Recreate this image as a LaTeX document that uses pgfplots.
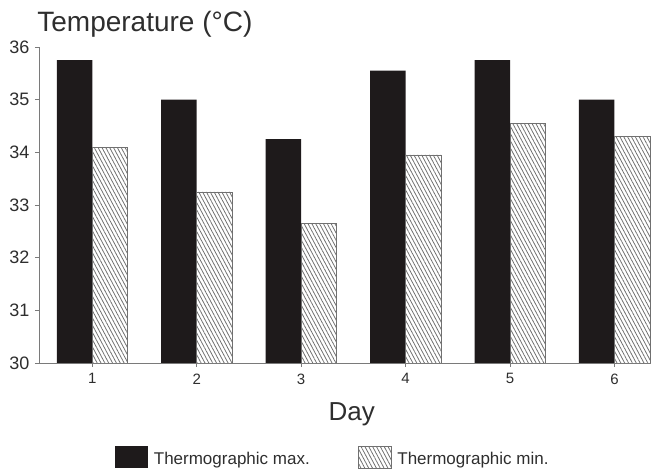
\documentclass[border=0pt]{standalone}
\usepackage{fontspec}
\setmainfont{Liberation Sans}
\usepackage{pgfplots}
\pgfplotsset{compat=1.18}
\usetikzlibrary{patterns.meta}
\definecolor{barblack}{HTML}{1E1A1B}
\definecolor{hatch}{HTML}{707070}
\definecolor{axisgray}{HTML}{7A7A7A}
\definecolor{txt}{HTML}{2E2E2E}
\begin{document}
\begin{tikzpicture}
\useasboundingbox (-39pt,-107pt) rectangle (612pt,363pt);
\begin{axis}[
  at={(0pt,0pt)}, anchor=south west,
  scale only axis, width=612pt, height=316pt,
  ymin=30, ymax=36, xmin=0.49, xmax=6.35,
  axis x line*=bottom, axis y line*=left,
  axis line style={axisgray, line width=0.8pt, -},
  ytick={30,31,32,33,34,35,36}, xtick={1,2,3,4,5,6},
  tick align=outside, major tick length=4pt,
  tick style={axisgray, line width=0.8pt},
  /pgf/number format/assume math mode=true,
  yticklabel style={font=\fontsize{18}{18}\selectfont, text=txt, xshift=-2pt},
  xticklabel style={font=\fontsize{15}{15}\selectfont, text=txt, yshift=-3pt},
  title={Temperature (°C)},
  title style={at={(axis description cs:-0.003,1.0285)}, anchor=base west,
    font=\fontsize{28}{28}\selectfont, text=txt, inner sep=0pt},
  xlabel={Day},
  xlabel style={at={(axis description cs:0.511,0)}, anchor=base, yshift=-58pt,
    font=\fontsize{26}{26}\selectfont, text=txt, inner sep=0pt},
  ybar=0pt, bar width=35.5pt,
  legend columns=2,
  legend style={draw=none, fill=none, inner sep=0pt, outer sep=0pt,
    at={(axis description cs:0.124,-0.262)}, anchor=north west,
    font=\fontsize{17}{17}\selectfont, text=txt,
    nodes={inner sep=0pt, anchor=base west},
    /tikz/every odd column/.append style={column sep=6pt},
    /tikz/every even column/.append style={column sep=48pt}},
]
\addplot[fill=barblack, draw=none,
  legend image code/.code={\fill[barblack] (0pt,-4pt) rectangle (33pt,18pt);}]
  coordinates {(1,35.75) (2,35.0) (3,34.25) (4,35.55) (5,35.75) (6,35.0)};
\addlegendentry{Thermographic max.}
\addplot[draw=hatch, line width=0.6pt,
  pattern={Lines[angle=-62, distance=3.4pt, line width=0.8pt]}, pattern color=hatch,
  legend image code/.code={\fill[pattern={Lines[angle=-62, distance=3.4pt, line width=0.8pt]}, pattern color=hatch] (0pt,-4pt) rectangle (33pt,18pt);}]
  coordinates {(1,34.1) (2,33.25) (3,32.65) (4,33.95) (5,34.55) (6,34.3)};
\addlegendentry{Thermographic min.}
\end{axis}
\end{tikzpicture}
\end{document}
